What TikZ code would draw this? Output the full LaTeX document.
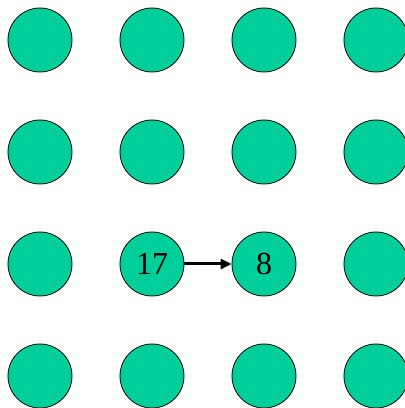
\documentclass[tikz,border=0pt]{standalone}
\usepackage{fontspec}
\setmainfont{Liberation Serif}
\usetikzlibrary{arrows.meta}
\definecolor{nodegreen}{RGB}{0,206,155}
\begin{document}
\begin{tikzpicture}[x=1pt,y=1pt,
  dot/.style={circle,draw=black,line width=0.8pt,fill=nodegreen,minimum size=64pt,inner sep=0pt,font=\fontsize{32}{34}\selectfont},
  link/.style={-{Triangle[length=11pt,width=10pt]},line width=3pt}]
\clip (0,0) rectangle (405,408);
\useasboundingbox (0,0) rectangle (405,408);
\foreach \i/\x in {1/40,2/152,3/264,4/376}{
  \foreach \j/\y in {1/40,2/152,3/264,4/376}{
    \ifnum\i=2 \ifnum\j=3 \else \node[dot] (n\i\j) at (\x,408-\y) {}; \fi
    \else \ifnum\i=3 \ifnum\j=3 \else \node[dot] (n\i\j) at (\x,408-\y) {}; \fi
    \else \node[dot] (n\i\j) at (\x,408-\y) {}; \fi\fi
  }
}
\node[dot] (a) at (152,408-264) {17};
\node[dot] (b) at (264,408-264) {8};
\draw[link] (a) -- (b);
\end{tikzpicture}
\end{document}
